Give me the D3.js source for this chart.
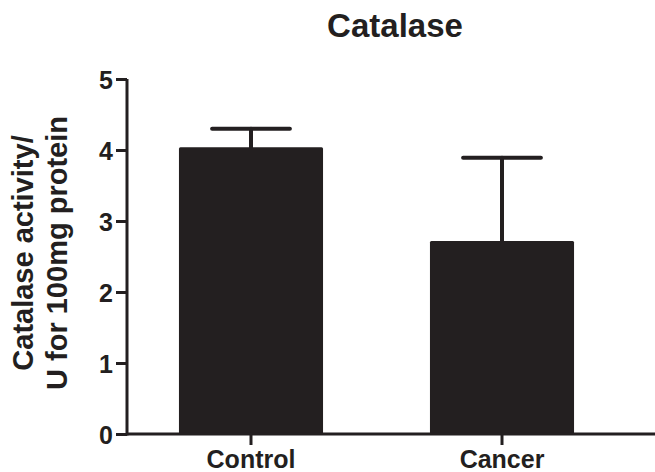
<!DOCTYPE html>
<html>
<head>
<meta charset="utf-8">
<script src="https://cdn.jsdelivr.net/npm/d3@7"></script>
<style>
  body { margin: 0; background: #fff; }
  text { font-family: "Liberation Sans", Arial, sans-serif; font-weight: bold; fill: #231f20; }
</style>
</head>
<body>
<div id="chart"></div>
<script>
// data
var groups = ["Control", "Cancer"];
var means = [4.04, 2.72];
var errors = [0.26, 1.17];
var yTicks = [0, 1, 2, 3, 4, 5];

var svgWidth = 655;
var svgHeight = 472;
var ink = "#231f20";

var svg = d3.select("#chart")
  .append("svg")
  .attr("width", svgWidth)
  .attr("height", svgHeight);

// scales
var x = d3.scaleBand()
  .domain(groups)
  .range([127, 626])
  .paddingInner(0.426)
  .paddingOuter(0.207);

var y = d3.scaleLinear()
  .domain([0, 5])
  .range([434, 79]);

// bars
svg.selectAll(".bar")
  .data(groups)
  .enter()
  .append("rect")
  .attr("class", "bar")
  .attr("x", d => x(d))
  .attr("y", (d, i) => y(means[i]))
  .attr("width", x.bandwidth())
  .attr("height", (d, i) => y(0) - y(means[i]))
  .attr("rx", 1.5)
  .attr("fill", ink);

// error bars (upper only)
var capHalf = x.bandwidth() * 0.27;
var err = svg.selectAll(".err")
  .data(groups)
  .enter()
  .append("g")
  .attr("class", "err")
  .attr("stroke", ink)
  .attr("stroke-width", 4)
  .attr("stroke-linecap", "round");

err.append("line")
  .attr("x1", d => x(d) + x.bandwidth() / 2)
  .attr("x2", d => x(d) + x.bandwidth() / 2)
  .attr("y1", (d, i) => y(means[i]))
  .attr("y2", (d, i) => y(means[i] + errors[i]));

err.append("line")
  .attr("x1", d => x(d) + x.bandwidth() / 2 - capHalf)
  .attr("x2", d => x(d) + x.bandwidth() / 2 + capHalf)
  .attr("y1", (d, i) => y(means[i] + errors[i]))
  .attr("y2", (d, i) => y(means[i] + errors[i]));

// y axis
var leftAxis = d3.axisLeft(y)
  .tickValues(yTicks)
  .tickFormat(d3.format("d"))
  .tickSize(11)
  .tickSizeOuter(0)
  .tickPadding(3);

var yAxis = svg.append("g")
  .attr("transform", "translate(127,0)")
  .call(leftAxis);

yAxis.select(".domain").attr("stroke", ink).attr("stroke-width", 3)
  .attr("d", "M0," + (y(0) + 1.5) + "V" + y(5));
yAxis.selectAll(".tick line").attr("stroke", ink).attr("stroke-width", 3);
yAxis.selectAll(".tick text")
  .style("font-size", "25px")
  .attr("dy", "0.36em")
  .attr("fill", ink);

// x axis
var bottomAxis = d3.axisBottom(x)
  .tickSize(11)
  .tickSizeOuter(0)
  .tickPadding(5);

var xAxis = svg.append("g")
  .attr("transform", "translate(0," + y(0) + ")")
  .call(bottomAxis);

xAxis.select(".domain").attr("stroke", ink).attr("stroke-width", 3)
  .attr("d", "M127,0H" + svgWidth);
xAxis.selectAll(".tick line").attr("stroke", ink).attr("stroke-width", 3);
xAxis.selectAll(".tick text")
  .style("font-size", "25px")
  .attr("fill", ink);

// title
svg.append("text")
  .attr("x", 395)
  .attr("y", 37)
  .attr("text-anchor", "middle")
  .style("font-size", "33px")
  .text("Catalase");

// y axis label, two lines
var yLabel = svg.append("text")
  .attr("transform", "translate(33, 253) rotate(-90)")
  .attr("text-anchor", "middle")
  .style("font-size", "29px");

yLabel.append("tspan")
  .attr("x", 0)
  .attr("y", 0)
  .text("Catalase activity/");

yLabel.append("tspan")
  .attr("x", 0)
  .attr("y", 34)
  .text("U for 100mg protein");
</script>
</body>
</html>
